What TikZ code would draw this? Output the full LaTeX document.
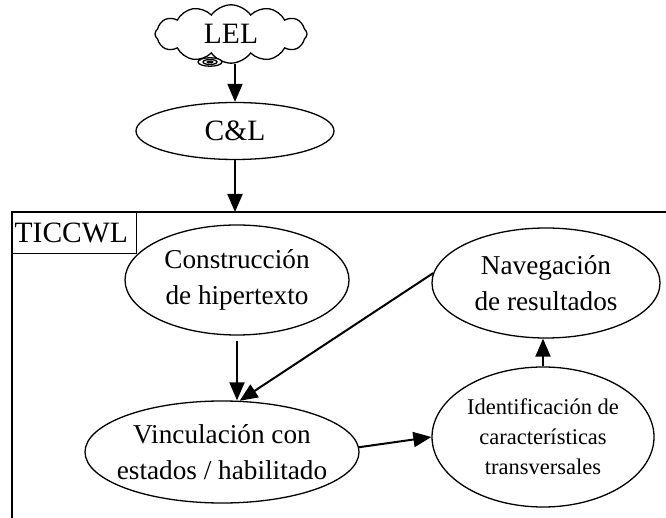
\documentclass[tikz,border=0pt]{standalone}
\usepackage{fontspec}
\setmainfont{Liberation Serif}
\usetikzlibrary{shapes.geometric,shapes.symbols,arrows.meta}

\begin{document}
\begin{tikzpicture}[
    etapa/.style={draw, ellipse, line width=0.026cm, inner sep=0pt, align=center,
      font=\fontsize{15.5}{20.5}\selectfont},
    etapachica/.style={etapa, font=\fontsize{12.8}{17}\selectfont},
    flujo/.style={line width=0.04cm, -{Triangle[length=0.36cm, width=0.30cm]}},
    rotulo/.style={font=\fontsize{16.8}{19}\selectfont},
  ]
                    \useasboundingbox (0,0) rectangle (13.320000,10.340000);
                    \clip (0,0) rectangle (13.320000,10.340000);

                    % Drawing cloud LEL
                    \node (lel) [draw, cloud, cloud puffs=12, cloud puff arc=110, aspect=2.7,
                      minimum width=3.04cm, minimum height=1.14cm, line width=0.026cm, rotulo]
                      at (4.620000,9.660000) {LEL};%

                    % Drawing spiral under LEL
                    \draw [line width=0.026cm, fill=white] (4.200000,9.100000) ellipse (0.240000 and 0.085000);%
                    \draw [line width=0.026cm] (4.200000,9.100000) ellipse (0.140000 and 0.050000);%
                    \draw [line width=0.020cm, fill=black] (4.200000,9.100000) ellipse (0.060000 and 0.020000);%

                    % Drawing ellipse C&L
                    \node (cl) [etapa, rotulo, minimum width=3.96cm, minimum height=1.14cm]
                      at (4.700000,7.720000) {C\&L};%

                    % Drawing frame TICCWL
                    \coordinate (marco) at (0.240000,6.100000);
                    \draw [line width=0.026cm] (marco) rectangle (13.600000,-0.200000);%
                    \node (tag) [draw, line width=0.026cm, anchor=north west, rotulo,
                      text width=2.400000cm, inner xsep=0.040000cm, minimum height=0.82cm, align=left]
                      at (marco) {TICCWL};%

                    % Drawing ellipses inside the frame
                    \node (constr) [etapa, minimum width=4.48cm, minimum height=2.20cm]
                      at (4.740000,4.740000) {Construcción\\de hipertexto};%
                    \node (nav) [etapa, minimum width=4.56cm, minimum height=2.20cm]
                      at (10.920000,4.680000) {Navegación\\de resultados};%
                    \node (ident) [etapachica, minimum width=4.44cm, minimum height=2.80cm]
                      at (10.860000,1.600000) {Identificación de\\características\\transversales};%
                    \node (vinc) [etapa, inner xsep=-0.180000cm, minimum width=5.48cm, minimum height=2.04cm]
                      at (4.440000,1.300000) {Vinculación con\\estados / habilitado};%

                    % Drawing arrows
                    \draw [flujo] (lel.south -| cl.north) -- (cl.north);%
                    \draw [flujo] (cl.south) -- (cl.south |- marco);%
                    \draw [flujo, shorten <=0.1cm] (constr.south) -- (vinc.north -| constr.south);%
                    \draw [flujo] (nav.175) -- (vinc.71);%
                    \draw [flujo] (vinc.2) -- (ident.west);%
                    \draw [flujo] (ident.north) -- (ident.north |- nav.south);%
\end{tikzpicture}
\end{document}
